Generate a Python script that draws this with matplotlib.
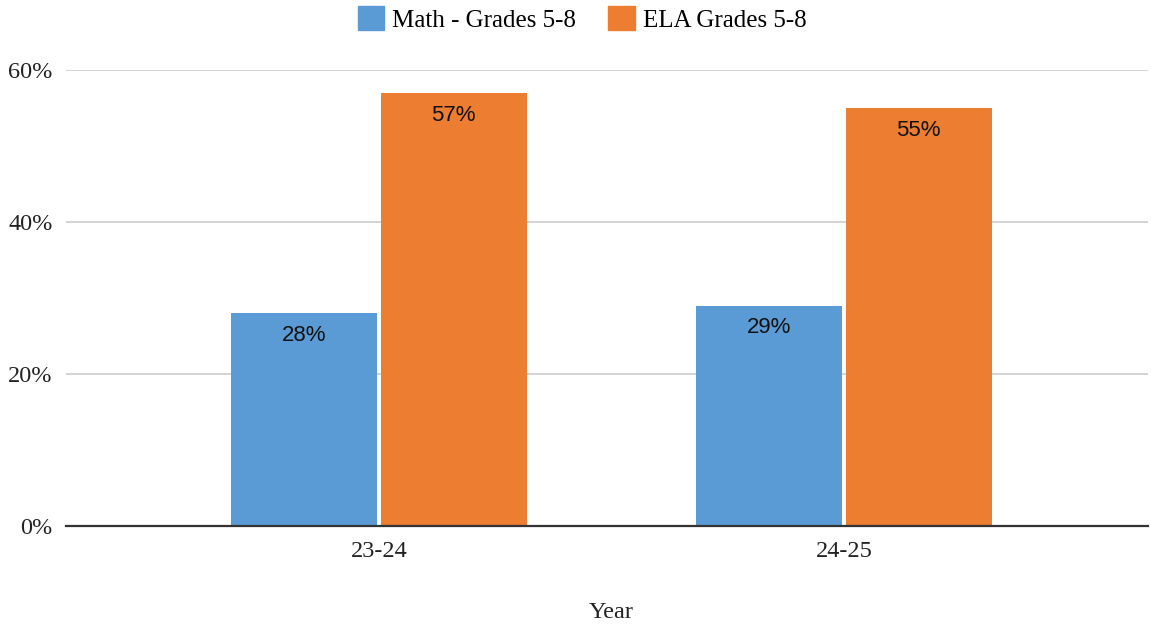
import matplotlib
matplotlib.use("Agg")
import matplotlib.pyplot as plt
import numpy as np
from matplotlib.patches import Patch

years = ["23-24", "24-25"]
math_vals = [28, 29]
ela_vals = [57, 55]
series_names = ["Math - Grades 5-8", "ELA Grades 5-8"]
colors = ["#5B9BD5", "#ED7D31"]
yticks = [0, 20, 40, 60]

serif = "Liberation Serif"
sans = "Liberation Sans"

fig = plt.figure(figsize=(11.51, 6.25), dpi=100)
ax = fig.add_axes([66 / 1151, 99 / 625, (1148 - 66) / 1151, 456 / 625])

x = np.arange(len(years))
w = 0.314
off = 0.161
for vals, name, col, sgn in [(math_vals, series_names[0], colors[0], -1),
                             (ela_vals, series_names[1], colors[1], 1)]:
    bars = ax.bar(x + sgn * off, vals, width=w, color=col, label=name, zorder=3)
    for b, v in zip(bars, vals):
        ax.annotate(f"{v}%", (b.get_x() + b.get_width() / 2, v),
                    xytext=(0, -16), textcoords="offset points",
                    ha="center", va="center", fontsize=16, family=sans,
                    color="#111111", zorder=4)

ax.set_xlim(-0.673, 1.654)
ax.set_ylim(0, 60)
ax.set_yticks(yticks)
ax.set_yticklabels([f"{t}%" for t in yticks], family=serif, fontsize=17.5, color="#222222")
ax.set_xticks(x)
ax.set_xticklabels(years, family=serif, fontsize=17.5, color="#222222")
ax.tick_params(axis="both", length=0)
ax.tick_params(axis="y", pad=9.5)
ax.tick_params(axis="x", pad=11)
ax.grid(axis="y", color="#cccccc", linewidth=1.2, zorder=0)
for s in ["top", "right", "left"]:
    ax.spines[s].set_visible(False)
ax.spines["bottom"].set_color("#333333")
ax.spines["bottom"].set_linewidth(1.6)
ax.spines["bottom"].set_zorder(5)

fig.text(611 / 1151, 1 - 612 / 625, "Year", ha="center", va="center",
         family=serif, fontsize=17.5, color="#222222")

handles = [Patch(facecolor=c, edgecolor=c) for c in colors]
fig.legend(handles, series_names, loc="center", bbox_to_anchor=(582 / 1151, 1 - 19 / 625),
           ncol=2, frameon=False, prop={"family": serif, "size": 18},
           handlelength=1.05, handleheight=1.05, columnspacing=1.3, handletextpad=0.32)

fig.savefig("out.png", dpi=100, facecolor="white")
